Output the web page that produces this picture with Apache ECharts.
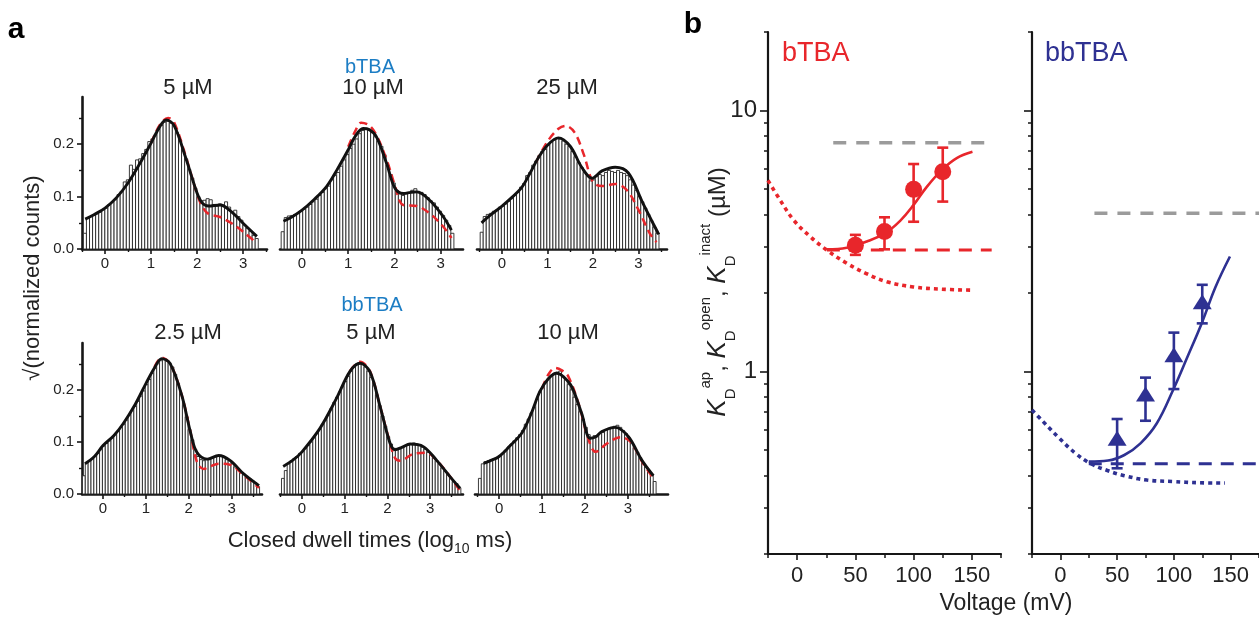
<!DOCTYPE html>
<html><head><meta charset="utf-8">
<script src="https://cdn.jsdelivr.net/npm/echarts@6/dist/echarts.min.js"></script>
<style>html,body{margin:0;padding:0;background:#fff}#c{width:1259px;height:618px}</style>
</head><body><div id="c"></div>
<script>
// ---------------- DATA ----------------
// histogram bin width (log10 ms) and left edge of first bin for each histogram
const binWidth = 1 / 15;
const histStart = [-0.47, -0.45, -0.48, -0.48, -0.48, -0.48];

// sqrt(normalized counts) for each bin
const hist_bTBA_5 = [0.030,0.058,0.062,0.064,0.067,0.070,0.075,0.078,0.085,0.090,0.094,0.104,0.110,0.128,0.132,0.160,0.152,0.170,0.172,0.182,0.190,0.205,0.210,0.218,0.228,0.236,0.242,0.244,0.240,0.236,0.222,0.208,0.190,0.172,0.152,0.135,0.116,0.100,0.092,0.093,0.096,0.094,0.085,0.082,0.086,0.084,0.090,0.080,0.070,0.074,0.062,0.055,0.046,0.040,0.034,0.026,0.020];
const hist_bTBA_10 = [0.033,0.060,0.063,0.064,0.066,0.068,0.072,0.076,0.080,0.085,0.090,0.095,0.102,0.108,0.115,0.120,0.132,0.140,0.146,0.158,0.170,0.180,0.192,0.200,0.210,0.220,0.226,0.228,0.226,0.222,0.214,0.206,0.196,0.180,0.160,0.142,0.126,0.112,0.105,0.102,0.105,0.108,0.112,0.115,0.110,0.108,0.104,0.098,0.092,0.088,0.080,0.072,0.064,0.055,0.045,0.030];
const hist_bTBA_25 = [0.032,0.062,0.066,0.068,0.072,0.074,0.080,0.082,0.086,0.091,0.096,0.103,0.108,0.118,0.125,0.140,0.146,0.160,0.168,0.178,0.186,0.190,0.198,0.204,0.208,0.212,0.210,0.206,0.200,0.196,0.186,0.176,0.165,0.156,0.146,0.140,0.130,0.132,0.138,0.142,0.140,0.146,0.150,0.148,0.146,0.150,0.146,0.144,0.140,0.132,0.122,0.112,0.100,0.090,0.078,0.066,0.054,0.042,0.030];
const hist_bbTBA_2p5 = [0.035,0.060,0.064,0.068,0.072,0.078,0.085,0.092,0.097,0.102,0.108,0.114,0.120,0.128,0.134,0.142,0.152,0.160,0.168,0.178,0.188,0.198,0.210,0.220,0.232,0.242,0.250,0.256,0.258,0.256,0.252,0.244,0.230,0.212,0.192,0.170,0.148,0.124,0.104,0.086,0.072,0.066,0.064,0.066,0.068,0.070,0.072,0.074,0.072,0.070,0.066,0.064,0.058,0.052,0.047,0.042,0.038,0.034,0.030,0.026,0.022,0.014];
const hist_bbTBA_5 = [0.030,0.045,0.058,0.064,0.068,0.072,0.078,0.082,0.088,0.094,0.100,0.108,0.116,0.124,0.134,0.142,0.152,0.164,0.176,0.186,0.196,0.206,0.216,0.226,0.236,0.244,0.250,0.252,0.250,0.244,0.236,0.224,0.208,0.190,0.170,0.150,0.130,0.110,0.096,0.088,0.086,0.088,0.090,0.092,0.094,0.096,0.098,0.096,0.094,0.090,0.086,0.080,0.076,0.070,0.064,0.058,0.050,0.044,0.038,0.030,0.024,0.020,0.012];
const hist_bbTBA_10 = [0.030,0.058,0.062,0.064,0.066,0.068,0.070,0.074,0.078,0.084,0.090,0.096,0.102,0.108,0.114,0.122,0.134,0.144,0.156,0.166,0.182,0.196,0.204,0.214,0.222,0.228,0.232,0.234,0.236,0.226,0.220,0.210,0.200,0.186,0.172,0.158,0.144,0.128,0.114,0.108,0.112,0.110,0.116,0.118,0.124,0.126,0.128,0.130,0.132,0.128,0.122,0.116,0.108,0.098,0.088,0.080,0.070,0.060,0.052,0.044,0.036,0.024];

// fitted curves [log10 ms, sqrt(counts)] : black = full model, red dashed = alternative model
const fitBlack_bTBA_5 = [[-0.43,0.057],[-0.25,0.065],[0,0.078],[0.25,0.098],[0.5,0.126],[0.75,0.162],[1.0,0.202],[1.2,0.235],[1.33,0.246],[1.5,0.236],[1.75,0.175],[2.0,0.107],[2.12,0.087],[2.25,0.082],[2.5,0.084],[2.75,0.071],[3.0,0.049],[3.3,0.024]];
const fitRed_bTBA_5 = [[1.0,0.202],[1.2,0.238],[1.37,0.250],[1.5,0.242],[1.75,0.178],[2.0,0.105],[2.12,0.080],[2.25,0.067],[2.5,0.061],[2.75,0.049],[3.0,0.033],[3.3,0.011]];
const fitBlack_bTBA_10 = [[-0.40,0.053],[-0.2,0.062],[0,0.074],[0.245,0.093],[0.53,0.119],[0.75,0.150],[1.015,0.192],[1.15,0.215],[1.32,0.230],[1.45,0.228],[1.61,0.214],[1.83,0.163],[2.01,0.116],[2.19,0.106],[2.35,0.108],[2.48,0.109],[2.76,0.093],[3.05,0.062],[3.23,0.036]];
const fitRed_bTBA_10 = [[1.0,0.195],[1.15,0.225],[1.28,0.241],[1.45,0.236],[1.61,0.217],[1.83,0.170],[2.01,0.120],[2.12,0.090],[2.19,0.084],[2.48,0.082],[2.76,0.068],[3.05,0.043],[3.23,0.021]];
const fitBlack_bTBA_25 = [[-0.45,0.050],[-0.25,0.065],[0,0.082],[0.2,0.097],[0.43,0.117],[0.6,0.142],[0.8,0.174],[1.0,0.198],[1.24,0.212],[1.5,0.196],[1.76,0.155],[1.98,0.135],[2.2,0.149],[2.49,0.156],[2.78,0.145],[3.08,0.091],[3.37,0.041],[3.45,0.028]];
const fitRed_bTBA_25 = [[0.75,0.166],[1.0,0.205],[1.25,0.230],[1.4,0.235],[1.6,0.222],[1.8,0.180],[2.0,0.128],[2.2,0.120],[2.5,0.124],[2.75,0.112],[3.0,0.075],[3.25,0.030],[3.4,0.013]];
const fitBlack_bbTBA_2p5 = [[-0.42,0.058],[-0.2,0.072],[0,0.093],[0.25,0.112],[0.47,0.135],[0.75,0.172],[1.0,0.212],[1.2,0.242],[1.37,0.260],[1.57,0.250],[1.84,0.189],[2.04,0.119],[2.19,0.080],[2.43,0.067],[2.70,0.074],[2.97,0.064],[3.29,0.038],[3.64,0.016]];
const fitRed_bbTBA_2p5 = [[1.2,0.244],[1.37,0.262],[1.57,0.250],[1.84,0.189],[2.04,0.119],[2.19,0.062],[2.35,0.048],[2.5,0.053],[2.70,0.058],[2.97,0.056],[3.29,0.036],[3.64,0.012]];
const fitBlack_bbTBA_5 = [[-0.44,0.053],[-0.2,0.066],[0,0.081],[0.42,0.126],[0.81,0.184],[1.12,0.235],[1.36,0.251],[1.59,0.235],[1.83,0.168],[2.06,0.098],[2.18,0.085],[2.35,0.090],[2.53,0.096],[2.84,0.091],[3.15,0.065],[3.47,0.033],[3.70,0.011]];
const fitRed_bbTBA_5 = [[1.12,0.236],[1.36,0.254],[1.59,0.236],[1.83,0.168],[2.06,0.098],[2.18,0.069],[2.30,0.064],[2.61,0.077],[2.92,0.079],[3.15,0.065],[3.47,0.033],[3.70,0.006]];
const fitBlack_bbTBA_10 = [[-0.36,0.059],[-0.2,0.064],[0,0.072],[0.25,0.092],[0.53,0.117],[0.75,0.155],[0.95,0.197],[1.15,0.222],[1.34,0.232],[1.5,0.225],[1.69,0.206],[1.92,0.155],[2.12,0.107],[2.25,0.110],[2.39,0.120],[2.70,0.128],[3.01,0.110],[3.32,0.065],[3.59,0.035]];
const fitRed_bbTBA_10 = [[1.0,0.203],[1.15,0.230],[1.30,0.242],[1.45,0.238],[1.61,0.226],[1.87,0.168],[2.06,0.110],[2.25,0.081],[2.51,0.097],[2.82,0.109],[3.05,0.101],[3.35,0.059],[3.59,0.030]];

// histogram axis ticks and labels
const histMajorTicks = [0, 1, 2, 3];
const histMinorTicks = [-0.5, 0.5, 1.5, 2.5, 3.5];
const histYMajor = [0, 0.1, 0.2];
const histYMinor = [0.05, 0.15, 0.25];

// panel b: voltage (mV) vs K_D (uM)
const voltage = [50, 75, 100, 125];
const bTBA_K = [3.05, 3.44, 4.99, 5.83];
const bTBA_lo = [2.80, 2.94, 3.75, 4.48];
const bTBA_hi = [3.34, 3.90, 6.24, 7.21];
const bbTBA_K = [0.555, 0.82, 1.16, 1.85];
const bbTBA_lo = [0.426, 0.648, 0.857, 1.53];
const bbTBA_hi = [0.658, 0.948, 1.41, 2.15];

const bTBA_fit = [[25.5,2.94],[42.6,2.98],[59.8,3.15],[75.5,3.39],[88.4,3.78],[100,4.35],[111.3,5.10],[124.7,5.95],[137,6.58],[150.5,6.96]];
const bTBA_open = [[25.5,2.92],[167,2.92]];
const bTBA_inact = [[31,7.53],[168,7.53]];
const bTBA_ap = [[-25,5.4],[-14.6,4.54],[-3.1,3.81],[11.2,3.29],[25.5,2.92],[42.6,2.60],[59.8,2.37],[77,2.21],[99.8,2.11],[122.7,2.07],[149.9,2.05]];
const bbTBA_fit = [[25,0.452],[42,0.456],[56.4,0.479],[70.6,0.531],[85,0.634],[99.3,0.85],[112,1.14],[125,1.55],[136.5,2.1],[149.4,2.76]];
const bbTBA_open = [[25,0.443],[175,0.443]];
const bbTBA_inact = [[30,4.04],[175,4.04]];
const bbTBA_ap = [[-25,0.713],[-15.2,0.643],[-0.9,0.555],[13.4,0.486],[26.3,0.445],[42,0.417],[56.4,0.399],[76.4,0.384],[99.3,0.379],[122,0.375],[145,0.374]];

const voltMajorTicks = [0, 50, 100, 150];
const voltMinorTicks = [-25, 25, 75, 125, 175];
const kMajorTicks = [1, 10];
const kMinorTicks = [0.2,0.3,0.4,0.5,0.6,0.7,0.8,0.9,2,3,4,5,6,7,8,9,20];

// ---------------- STYLE / LAYOUT ----------------
const RED = '#E8262B', NAVY = '#2E3192', LBLUE = '#1C7DC4', GRAY = '#9B9B9B', INK = '#161616';
const FONT = '"Liberation Sans", Arial, Helvetica, sans-serif';

const histPanels = [
  {grid:{left:82, top:97, width:185, height:152}, xr:[-0.5,3.52], showY:true, hist:hist_bTBA_5, black:fitBlack_bTBA_5, red:fitRed_bTBA_5},
  {grid:{left:280, top:97, width:183, height:152}, xr:[-0.475,3.48], showY:false, hist:hist_bTBA_10, black:fitBlack_bTBA_10, red:fitRed_bTBA_10},
  {grid:{left:477, top:97, width:190, height:152}, xr:[-0.55,3.63], showY:false, hist:hist_bTBA_25, black:fitBlack_bTBA_25, red:fitRed_bTBA_25},
  {grid:{left:82, top:343, width:180, height:151}, xr:[-0.49,3.71], showY:true, hist:hist_bbTBA_2p5, black:fitBlack_bbTBA_2p5, red:fitRed_bbTBA_2p5},
  {grid:{left:280, top:343, width:183, height:151}, xr:[-0.515,3.77], showY:false, hist:hist_bbTBA_5, black:fitBlack_bbTBA_5, red:fitRed_bbTBA_5},
  {grid:{left:475, top:343, width:193, height:151}, xr:[-0.56,3.93], showY:false, hist:hist_bbTBA_10, black:fitBlack_bbTBA_10, red:fitRed_bbTBA_10}
];

const grids = [], xAxes = [], yAxes = [], series = [];

function histRender(params, api) {
  const c = api.value(0), v = api.value(1);
  const p0 = api.coord([c - binWidth / 2, v]);
  const p1 = api.coord([c + binWidth / 2, 0]);
  return {type:'rect', shape:{x:p0[0], y:p0[1], width:p1[0]-p0[0], height:p1[1]-p0[1]},
    style:{fill:'#ffffff', stroke:'#262626', lineWidth:0.9}};
}

histPanels.forEach((p, i) => {
  grids.push(Object.assign({}, p.grid));
  const xi = xAxes.length, yi = yAxes.length;
  const inR = arr => arr.filter(v => v >= p.xr[0] - 1e-9 && v <= p.xr[1] + 1e-9);
  xAxes.push({type:'value', gridIndex:i, position:'bottom', min:p.xr[0], max:p.xr[1],
    axisLine:{show:true, onZero:false, lineStyle:{color:INK, width:2.6}},
    axisTick:{show:true, customValues:histMajorTicks, length:5, lineStyle:{color:INK, width:1.6}},
    axisLabel:{show:true, customValues:histMajorTicks, fontSize:15, color:'#222', margin:7, fontFamily:FONT},
    splitLine:{show:false}});
  xAxes.push({type:'value', gridIndex:i, position:'bottom', min:p.xr[0], max:p.xr[1],
    axisLine:{show:false, onZero:false},
    axisTick:{show:true, customValues:inR(histMinorTicks), length:3, lineStyle:{color:INK, width:1.4}},
    axisLabel:{show:false}, splitLine:{show:false}});
  yAxes.push({type:'value', gridIndex:i, position:'left', min:0, max:0.29, show:p.showY,
    axisLine:{show:true, onZero:false, lineStyle:{color:INK, width:2.6}},
    axisTick:{show:true, customValues:histYMajor, length:5, lineStyle:{color:INK, width:1.6}},
    axisLabel:{show:true, customValues:histYMajor, formatter:v => Number(v).toFixed(1), fontSize:15, color:'#222', margin:8, fontFamily:FONT},
    splitLine:{show:false}});
  yAxes.push({type:'value', gridIndex:i, position:'left', min:0, max:0.29, show:p.showY,
    axisLine:{show:false, onZero:false},
    axisTick:{show:true, customValues:histYMinor, length:3, lineStyle:{color:INK, width:1.4}},
    axisLabel:{show:false}, splitLine:{show:false}});
  const start = histStart[i];
  series.push({type:'custom', xAxisIndex:xi, yAxisIndex:yi, renderItem:histRender, encode:{x:0, y:1},
    data:p.hist.map((v, k) => [start + (k + 0.5) * binWidth, v]), z:2, silent:true});
  series.push({type:'line', xAxisIndex:xi, yAxisIndex:yi, data:p.red, smooth:0.35, symbol:'none',
    lineStyle:{color:RED, width:2.5, type:[8,5]}, z:3, silent:true});
  series.push({type:'line', xAxisIndex:xi, yAxisIndex:yi, data:p.black, smooth:0.35, symbol:'none',
    lineStyle:{color:'#111', width:2.9}, z:4, silent:true});
});

// panel b grids
const bPanels = [
  {grid:{left:768, top:32, width:233, height:522}, labelsY:true, color:RED, sym:'circle', symSize:17,
   K:bTBA_K, lo:bTBA_lo, hi:bTBA_hi, fit:bTBA_fit, open:bTBA_open, inact:bTBA_inact, ap:bTBA_ap},
  {grid:{left:1032, top:32, width:233, height:522}, labelsY:false, color:NAVY, sym:'triangle', symSize:[19,15],
   K:bbTBA_K, lo:bbTBA_lo, hi:bbTBA_hi, fit:bbTBA_fit, open:bbTBA_open, inact:bbTBA_inact, ap:bbTBA_ap}
];

bPanels.forEach((p, j) => {
  const gi = grids.length;
  grids.push(Object.assign({}, p.grid));
  const xi = xAxes.length, yi = yAxes.length;
  xAxes.push({type:'value', gridIndex:gi, position:'bottom', min:-25, max:175,
    axisLine:{show:true, onZero:false, lineStyle:{color:INK, width:2.2}},
    axisTick:{show:true, customValues:voltMajorTicks, length:6, lineStyle:{color:INK, width:1.6}},
    axisLabel:{show:true, customValues:voltMajorTicks, fontSize:22, color:'#222', margin:11, fontFamily:FONT},
    splitLine:{show:false}});
  xAxes.push({type:'value', gridIndex:gi, position:'bottom', min:-25, max:175,
    axisLine:{show:false, onZero:false},
    axisTick:{show:true, customValues:voltMinorTicks, length:4, lineStyle:{color:INK, width:1.5}},
    axisLabel:{show:false}, splitLine:{show:false}});
  yAxes.push({type:'log', logBase:10, gridIndex:gi, position:'left', min:0.2, max:20,
    axisLine:{show:true, onZero:false, lineStyle:{color:INK, width:2.2}},
    axisTick:{show:true, customValues:kMajorTicks, length:8, lineStyle:{color:INK, width:1.6}},
    axisLabel:{show:p.labelsY, customValues:kMajorTicks, formatter:v => String(Math.round(v)), fontSize:24, color:'#222', margin:11, fontFamily:FONT},
    splitLine:{show:false}, minorTick:{show:false}});
  yAxes.push({type:'log', logBase:10, gridIndex:gi, position:'left', min:0.2, max:20,
    axisLine:{show:false, onZero:false},
    axisTick:{show:true, customValues:kMinorTicks, length:4, lineStyle:{color:INK, width:1.5}},
    axisLabel:{show:false}, splitLine:{show:false}});

  const c = p.color;
  const lineBase = {xAxisIndex:xi, yAxisIndex:yi, symbol:'none', silent:true};
  series.push(Object.assign({type:'line', data:p.inact, lineStyle:{color:GRAY, width:3.5, type:[13,10]}, z:3}, lineBase));
  series.push(Object.assign({type:'line', data:p.open, lineStyle:{color:c, width:3, type:[13,9]}, z:3}, lineBase));
  series.push(Object.assign({type:'line', data:p.ap, smooth:0.4, lineStyle:{color:c, width:3.6, type:[4,4]}, z:3}, lineBase));
  series.push(Object.assign({type:'line', data:p.fit, smooth:0.4, lineStyle:{color:c, width:2.6}, z:4}, lineBase));
  series.push({type:'custom', xAxisIndex:xi, yAxisIndex:yi, encode:{x:0, y:[1,2]}, z:5, silent:true,
    data:voltage.map((v, k) => [v, p.lo[k], p.hi[k]]),
    renderItem:(params, api) => {
      const x = api.value(0), lo = api.value(1), hi = api.value(2);
      const a = api.coord([x, lo]), b = api.coord([x, hi]);
      const cw = 5.5, st = {stroke:c, lineWidth:2.6};
      return {type:'group', children:[
        {type:'line', shape:{x1:a[0], y1:a[1], x2:b[0], y2:b[1]}, style:st},
        {type:'line', shape:{x1:a[0]-cw, y1:a[1], x2:a[0]+cw, y2:a[1]}, style:st},
        {type:'line', shape:{x1:b[0]-cw, y1:b[1], x2:b[0]+cw, y2:b[1]}, style:st}
      ]};
    }});
  series.push({type:'scatter', xAxisIndex:xi, yAxisIndex:yi, data:voltage.map((v, k) => [v, p.K[k]]),
    symbol:p.sym, symbolSize:p.symSize, itemStyle:{color:c, opacity:1}, z:6, silent:true});
});

// ---------------- TEXT ----------------
function txt(x, y, text, size, color, opts) {
  return Object.assign({type:'text', x:x, y:y, silent:true, z:100,
    style:{text:text, fill:color, font:size + 'px ' + FONT, fontSize:size, fontFamily:FONT,
      align:'center', verticalAlign:'middle', textAlign:'center', textVerticalAlign:'middle'}}, opts || {});
}
const graphics = [
  txt(16, 30, 'a', 30, '#000', {style:{text:'a', fill:'#000', font:'bold 30px ' + FONT, align:'center', verticalAlign:'middle'}}),
  txt(693, 25, 'b', 30, '#000', {style:{text:'b', fill:'#000', font:'bold 30px ' + FONT, align:'center', verticalAlign:'middle'}}),
  txt(370, 67, 'bTBA', 20, LBLUE),
  txt(188, 88, '5 \u00b5M', 22, '#222'),
  txt(373, 88, '10 \u00b5M', 22, '#222'),
  txt(567, 88, '25 \u00b5M', 22, '#222'),
  txt(372, 305, 'bbTBA', 20, LBLUE),
  txt(188, 333, '2.5 \u00b5M', 22, '#222'),
  txt(371, 333, '5 \u00b5M', 22, '#222'),
  txt(568, 333, '10 \u00b5M', 22, '#222'),
  txt(33, 278, '\u221a(normalized counts)', 22, '#222', {rotation:Math.PI/2}),
  {type:'text', x:370, y:541, silent:true, z:100, style:{
    text:'{m|Closed dwell times (log}{s|10}{m| ms)}', align:'center', verticalAlign:'middle',
    rich:{m:{fontSize:22, fontFamily:FONT, fill:'#222', color:'#222', lineHeight:30, verticalAlign:'middle'},
          s:{fontSize:14, fontFamily:FONT, fill:'#222', color:'#222', lineHeight:14, verticalAlign:'bottom'}}}},
  {type:'text', x:782, y:54, silent:true, z:100, style:{text:'bTBA', fill:RED, font:'27px ' + FONT, align:'left', verticalAlign:'middle'}},
  {type:'text', x:1045, y:54, silent:true, z:100, style:{text:'bbTBA', fill:NAVY, font:'27px ' + FONT, align:'left', verticalAlign:'middle'}},
  txt(1006, 604, 'Voltage (mV)', 23, '#222'),
  {type:'text', x:718, y:292, rotation:Math.PI/2, silent:true, z:100, style:{
    text:'{k|K}{sub|D}{sup|ap}{n|, }{k|K}{sub|D}{sup|open}{n|, }{k|K}{sub|D}{sup|inact}{n| (\u00b5M)}',
    align:'center', verticalAlign:'middle',
    rich:{k:{fontSize:26, fontStyle:'italic', fontFamily:FONT, fill:'#222', color:'#222', lineHeight:40, verticalAlign:'middle'},
          n:{fontSize:24, fontFamily:FONT, fill:'#222', color:'#222', lineHeight:40, verticalAlign:'middle'},
          sub:{fontSize:15, fontFamily:FONT, fill:'#222', color:'#222', lineHeight:15, verticalAlign:'bottom'},
          sup:{fontSize:15, fontFamily:FONT, fill:'#222', color:'#222', lineHeight:15, verticalAlign:'top'}}}}
];

const chart = echarts.init(document.getElementById('c'), null, {renderer:'canvas'});
chart.setOption({
  animation:false,
  backgroundColor:'#ffffff',
  textStyle:{fontFamily:FONT},
  grid:grids, xAxis:xAxes, yAxis:yAxes, series:series, graphic:graphics
});
</script></body></html>
